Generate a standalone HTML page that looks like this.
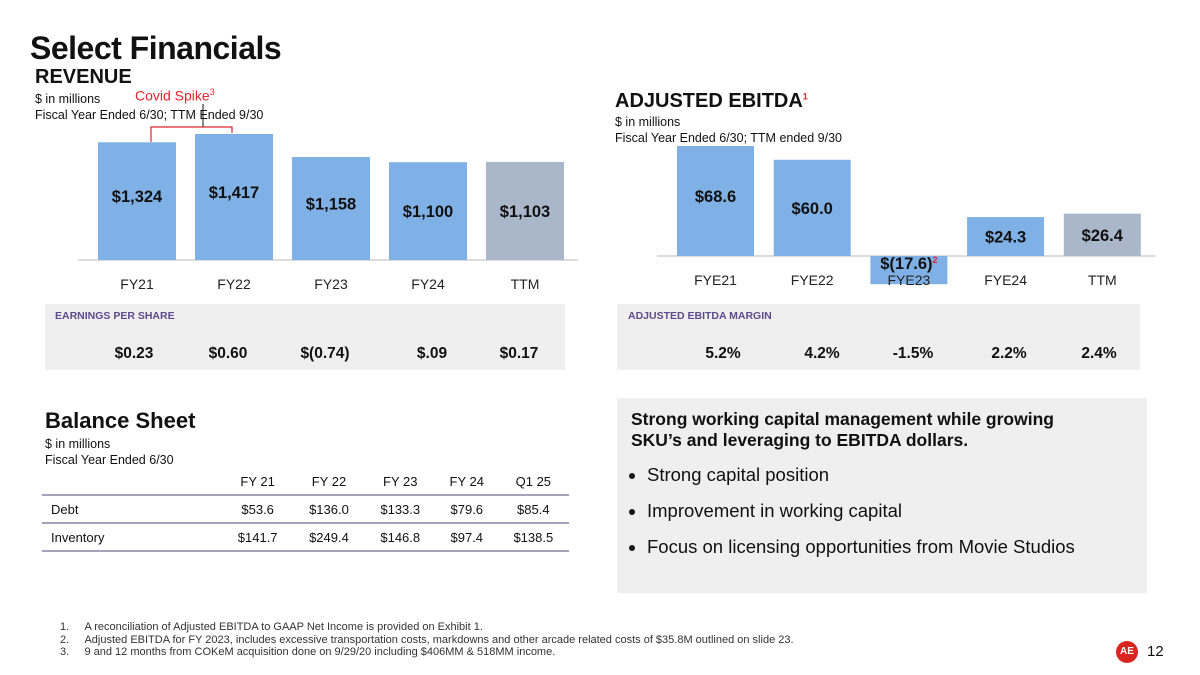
<!DOCTYPE html>
<html><head><meta charset="utf-8"><style>
body{margin:0;width:1200px;height:675px;background:#fff;font-family:"Liberation Sans",sans-serif;position:relative;overflow:hidden;color:#111}
.abs{position:absolute}
.h1{font-size:32px;font-weight:bold;letter-spacing:-0.5px}
.h2{font-size:20px;font-weight:bold}
.sub{font-size:12.5px;line-height:16px}
.box{background:#efefef}
.boxt{font-size:10.5px;font-weight:bold;color:#5d4b8c}
.val{font-size:15.5px;font-weight:bold;position:absolute;transform:translateX(-50%);top:41px}
table{border-collapse:collapse;font-size:13px}
td{padding:0;height:26px;text-align:center}
.fn{font-size:11px;color:#333;line-height:12.5px}
ul{margin:0;padding-left:16px}
li{font-size:18.5px;margin-bottom:14px}
</style></head><body>
<div class="abs h1" style="left:30px;top:30px">Select Financials</div>
<div class="abs h2" style="left:35px;top:66px">REVENUE</div>
<div class="abs sub" style="left:35px;top:91px">$ in millions<br>Fiscal Year Ended 6/30; TTM Ended 9/30</div>
<div class="abs" style="left:135px;top:87px;color:#e0252b;font-size:14px">Covid Spike<sup style="font-size:9px">3</sup></div>

<svg class="abs" style="left:0;top:0" width="1200" height="300">
<g id="rev"></g><g id="ebit"></g>
<path d="M151 142V127H232V133" fill="none" stroke="#e0252b" stroke-width="1.2"/>
<line x1="203" y1="104" x2="203" y2="127" stroke="#111" stroke-width="1"/>
</svg>

<div class="abs h2" style="left:615px;top:90px">ADJUSTED EBITDA<sup style="font-size:9px;color:#e0252b">1</sup></div>
<div class="abs sub" style="left:615px;top:114px">$ in millions<br>Fiscal Year Ended 6/30; TTM ended 9/30</div>

<div class="abs box" style="left:45px;top:304px;width:520px;height:66px">
<div class="abs boxt" style="left:10px;top:6px">EARNINGS PER SHARE</div>
<div id="eps"></div></div>
<div class="abs box" style="left:617px;top:304px;width:523px;height:66px">
<div class="abs boxt" style="left:11px;top:6px">ADJUSTED EBITDA MARGIN</div>
<div id="mar"></div></div>

<div class="abs" style="left:45px;top:408px;font-size:22px;font-weight:bold">Balance Sheet</div>
<div class="abs sub" style="left:45px;top:436px">$ in millions<br>Fiscal Year Ended 6/30</div>
<table class="abs" style="left:42px;top:468px;width:527px">
<tr style="border-bottom:2px solid #a8a3bd"><td style="width:180px"></td><td>FY 21</td><td>FY 22</td><td>FY 23</td><td>FY 24</td><td>Q1 25</td></tr>
<tr style="border-bottom:2px solid #a8a3bd"><td style="text-align:left;padding-left:9px">Debt</td><td>$53.6</td><td>$136.0</td><td>$133.3</td><td>$79.6</td><td>$85.4</td></tr>
<tr style="border-bottom:2px solid #a8a3bd"><td style="text-align:left;padding-left:9px">Inventory</td><td>$141.7</td><td>$249.4</td><td>$146.8</td><td>$97.4</td><td>$138.5</td></tr>
</table>

<div class="abs box" style="left:617px;top:398px;width:530px;height:195px">
<div class="abs" style="left:14px;top:11px;font-size:17.5px;font-weight:bold;line-height:21px">Strong working capital management while growing<br>SKU’s and leveraging to EBITDA dollars.</div>
<ul class="abs" style="left:14px;top:66px">
<li>Strong capital position</li><li>Improvement in working capital</li><li>Focus on licensing opportunities from Movie Studios</li></ul>
</div>

<div class="abs fn" style="left:60px;top:621px">
<div>1.&nbsp;&nbsp;&nbsp;&nbsp;&nbsp;A reconciliation of Adjusted EBITDA to GAAP Net Income is provided on Exhibit 1.</div>
<div>2.&nbsp;&nbsp;&nbsp;&nbsp;&nbsp;Adjusted EBITDA for FY 2023, includes excessive transportation costs, markdowns and other arcade related costs of $35.8M outlined on slide 23.</div>
<div>3.&nbsp;&nbsp;&nbsp;&nbsp;&nbsp;9 and 12 months from COKeM acquisition done on 9/29/20 including $406MM &amp; 518MM income.</div></div>
<div class="abs" style="left:1116px;top:641px;width:22px;height:22px;border-radius:50%;background:#d8261f;color:#fff;font-size:10px;font-weight:bold;text-align:center;line-height:22px">AE</div>
<div class="abs" style="left:1147px;top:643px;font-size:15px">12</div>

<script>
const revCats=["FY21","FY22","FY23","FY24","TTM"];
const revVals=[1324,1417,1158,1100,1103];
const revLabels=["$1,324","$1,417","$1,158","$1,100","$1,103"];
const ebCats=["FYE21","FYE22","FYE23","FYE24","TTM"];
const ebVals=[68.6,60.0,-17.6,24.3,26.4];
const ebLabels=["$68.6","$60.0","$(17.6)","$24.3","$26.4"];
const epsVals=["$0.23","$0.60","$(0.74)","$.09","$0.17"];
const marVals=["5.2%","4.2%","-1.5%","2.2%","2.4%"];
const NS="http://www.w3.org/2000/svg";
function mk(p,t,a,txt){const e=document.createElementNS(NS,t);for(const k in a)e.setAttribute(k,a[k]);if(txt!=null)e.textContent=txt;p.appendChild(e);return e;}
function chart(gid,cats,vals,labs,x0,step,bw,base,scale,catY,prefix){
  const g=document.getElementById(gid);
  const ax=mk(g,"line",{x1:x0-20,x2:x0+step*5-5,y1:base,y2:base,stroke:"#ddd","stroke-width":2});
  
  
  vals.forEach((v,i)=>{
    const x=x0+i*step,h=Math.abs(v)*scale,y=v>=0?base-h:base;
    const r=mk(g,"rect",{x:x,y:y,width:bw,height:h,fill:i==4?"#aab6c9":"#80b1e6"});
    
    
    const c=mk(g,"text",{x:x+bw/2,y:catY,"text-anchor":"middle","font-size":14,"font-family":"Liberation Sans",fill:"#222"},cats[i]);
    
    
    const ly=v>=0?y+h/2+6+(h>100?-5:0):base+13;
    const t=mk(g,"text",{x:x+bw/2,y:ly,"text-anchor":"middle","font-size":16.5,"font-weight":"bold","font-family":"Liberation Sans",fill:"#111"},labs[i]);
    
    
    if(v<0){mk(t,"tspan",{fill:"#e0252b","font-size":9,dy:-6},"2");}
  });
}
chart("rev",revCats,revVals,revLabels,98,97,78,260,126/1417,289,"revenue");
chart("ebit",ebCats,ebVals,ebLabels,677,96.7,77,256,110/68.6,285,"ebitda");
function row(id,vals,xs){const d=document.getElementById(id);vals.forEach((v,i)=>{const e=document.createElement("div");e.className="val";e.style.left=xs[i]+"px";e.textContent=v;


d.appendChild(e);});}
row("eps",epsVals,[89,183,280,387,474]);
row("mar",marVals,[106,205,296,392,482]);
</script>
</body></html>
